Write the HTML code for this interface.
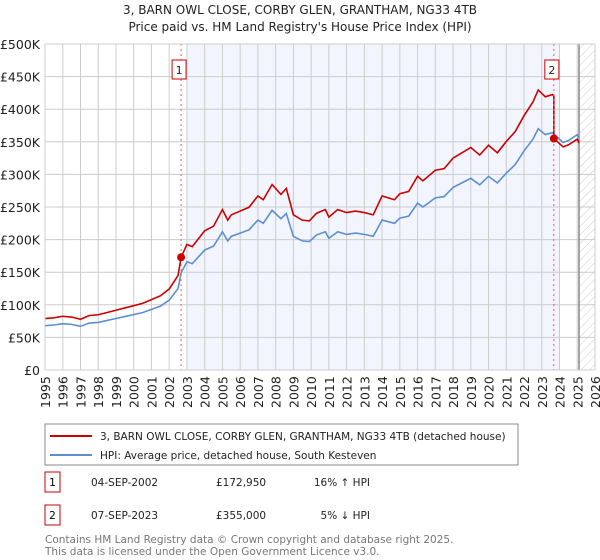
<!DOCTYPE html>
<html><head><meta charset="utf-8"><style>
body{margin:0;background:#fff;font-family:"DejaVu Sans","Liberation Sans",sans-serif;}
#wrap{position:relative;width:600px;height:560px;overflow:hidden}
</style></head><body><div id="wrap">
<svg id="chart" width="600" height="560" style="position:absolute;left:0;top:0;font-family:'DejaVu Sans','Liberation Sans',sans-serif">
<text x="300" y="14" text-anchor="middle" font-size="12" fill="#222">3, BARN OWL CLOSE, CORBY GLEN, GRANTHAM, NG33 4TB</text>
<text x="300" y="31" text-anchor="middle" font-size="12" fill="#222">Price paid vs. HM Land Registry's House Price Index (HPI)</text>
<defs><pattern id="hatch" width="6" height="6" patternUnits="userSpaceOnUse" patternTransform="rotate(45)"><line x1="0" y1="0" x2="0" y2="6" stroke="#ccc" stroke-width="1"/></pattern></defs>
<g id="g"></g>
<rect x="45" y="424" width="473" height="41" fill="#fff" stroke="#888"/>
<line x1="50" y1="436" x2="92" y2="436" stroke="#cc0000" stroke-width="2"/>
<text x="100" y="440" font-size="10.5" fill="#222">3, BARN OWL CLOSE, CORBY GLEN, GRANTHAM, NG33 4TB (detached house)</text>
<line x1="50" y1="455" x2="92" y2="455" stroke="#5b8fd0" stroke-width="2"/>
<text x="100" y="459" font-size="10.5" fill="#222">HPI: Average price, detached house, South Kesteven</text>
<rect x="45" y="472" width="15" height="20" fill="#fff" stroke="#cc0000"/>
<text x="52.5" y="486" font-size="10.5" text-anchor="middle">1</text>
<text x="91" y="486" font-size="10.5" fill="#222">04-SEP-2002</text>
<text x="216" y="486" font-size="10.5" fill="#222">£172,950</text>
<text x="370" y="486" font-size="10.5" fill="#222" text-anchor="end">16% ↑ HPI</text>
<rect x="45" y="505" width="15" height="20" fill="#fff" stroke="#cc0000"/>
<text x="52.5" y="519" font-size="10.5" text-anchor="middle">2</text>
<text x="91" y="519" font-size="10.5" fill="#222">07-SEP-2023</text>
<text x="216" y="519" font-size="10.5" fill="#222">£355,000</text>
<text x="370" y="519" font-size="10.5" fill="#222" text-anchor="end">5% ↓ HPI</text>
<text x="45" y="543" font-size="10.5" fill="#777">Contains HM Land Registry data © Crown copyright and database right 2025.</text>
<text x="45" y="555" font-size="10.5" fill="#777">This data is licensed under the Open Government Licence v3.0.</text>
</svg>
<script>
const hpiYears=[1995,1995.5,1996,1996.5,1997,1997.5,1998,1998.5,1999,1999.5,2000,2000.5,2001,2001.5,2002,2002.5,2002.67,2003,2003.3,2004,2004.5,2005,2005.3,2005.5,2006,2006.5,2007,2007.3,2007.8,2008.3,2008.6,2009,2009.5,2009.9,2010.3,2010.8,2011,2011.5,2012,2012.5,2013,2013.5,2014,2014.7,2015,2015.5,2016,2016.3,2017,2017.5,2018,2018.5,2019,2019.5,2020,2020.5,2021,2021.5,2022,2022.5,2022.8,2023.2,2023.6,2023.8,2024.2,2024.5,2025,2025.1];
const hpiValues=[68,69,71,70,67,72,73,76,79,82,85,88,93,98,107,125,149,166,163,184,190,212,198,205,210,215,230,225,245,232,240,205,198,197,207,212,202,212,208,210,208,205,230,225,233,236,256,250,264,266,280,287,294,284,297,287,302,315,336,354,370,361,364,359,349,352,361,355];
const saleYears=[2002.67,2023.68];
const salePrices=[172950,355000];
const yTicks=[0,50,100,150,200,250,300,350,400,450,500];
const xTicks=[1995,1996,1997,1998,1999,2000,2001,2002,2003,2004,2005,2006,2007,2008,2009,2010,2011,2012,2013,2014,2015,2016,2017,2018,2019,2020,2021,2022,2023,2024,2025,2026];
const X=t=>45+(t-1995)*(550/31), Y=v=>370-v/500*326;
const NS="http://www.w3.org/2000/svg", g=document.getElementById('g');
function mk(tag,a){const e=document.createElementNS(NS,tag);for(const k in a)e.setAttribute(k,a[k]);g.appendChild(e);return e;}
function hpiAt(t){for(let i=1;i<hpiYears.length;i++){if(t<=hpiYears[i]){const f=(t-hpiYears[i-1])/(hpiYears[i]-hpiYears[i-1]);return hpiValues[i-1]+f*(hpiValues[i]-hpiValues[i-1]);}}return hpiValues[hpiValues.length-1];}
let e;
e=mk('rect',{x:X(saleYears[0])+6,y:44,width:X(saleYears[1])-X(saleYears[0]),height:326,fill:'#f2f5fd'});


e=mk('rect',{x:X(2025.1),y:44,width:595-X(2025.1),height:326,fill:'url(#hatch)'});


yTicks.forEach(v=>{
 e=mk('line',{x1:45,x2:595,y1:Y(v),y2:Y(v),stroke:'#ccc'});
 
 
 e=mk('text',{x:40,y:Y(v)+5,'text-anchor':'end','font-size':12.5,fill:'#222'});e.textContent=v?'£'+v+'K':'£0';
 
 
});
xTicks.forEach(t=>{
 e=mk('line',{x1:X(t),x2:X(t),y1:44,y2:370,stroke:'#ccc'});
 
 
 e=mk('text',{transform:`translate(${X(t)+5},408) rotate(-90)`,'font-size':12.5,fill:'#222'});e.textContent=t;
 
 
});
e=mk('line',{x1:X(2025.1),x2:X(2025.1),y1:44,y2:370,stroke:'#888','stroke-width':1.5});


e=mk('path',{d:'M'+hpiYears.map((t,i)=>X(t)+','+Y(hpiValues[i])).join('L'),fill:'none',stroke:'#5b8fd0','stroke-width':1.6});


const r1=salePrices[0]/1000/hpiAt(saleYears[0]), r2=salePrices[1]/1000/hpiAt(saleYears[1]);
let pts=[];
hpiYears.forEach((t,i)=>{if(t<=saleYears[1])pts.push([t,hpiValues[i]*r1]);});
pts.push([saleYears[1],hpiAt(saleYears[1])*r1]);pts.push([saleYears[1],salePrices[1]/1000]);
hpiYears.forEach((t,i)=>{if(t>saleYears[1])pts.push([t,hpiValues[i]*r2]);});
e=mk('path',{d:'M'+pts.map(p=>X(p[0])+','+Y(p[1])).join('L'),fill:'none',stroke:'#cc0000','stroke-width':1.6});


saleYears.forEach((t,i)=>{
 e=mk('line',{x1:X(t),x2:X(t),y1:44,y2:370,stroke:'#e06060','stroke-dasharray':'2,3'});
 
 
 e=mk('circle',{cx:X(t),cy:Y(salePrices[i]/1000),r:4,fill:'#cc0000'});
 
 
 e=mk('rect',{x:X(t)-9,y:60,width:14,height:19,fill:'#fff',stroke:'#cc0000'});
 
 
 e=mk('text',{x:X(t)-2,y:74,'text-anchor':'middle','font-size':11,fill:'#222'});e.textContent=i+1;
 
 
});
e=mk('rect',{x:45,y:44,width:550,height:326,fill:'none',stroke:'#ccc'});


</script>
</div></body></html>
